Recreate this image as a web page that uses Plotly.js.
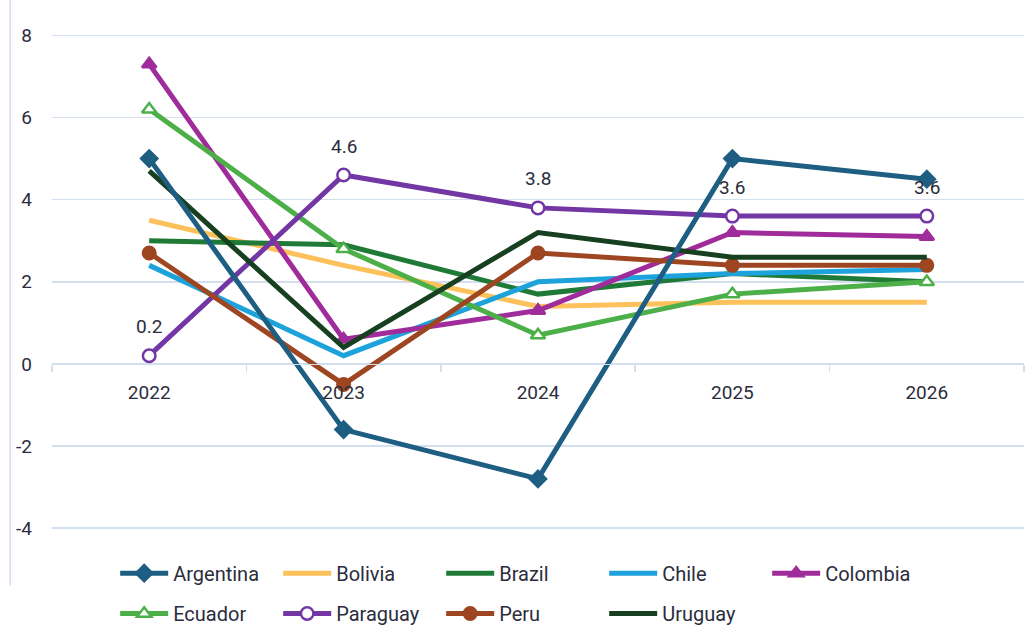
<!DOCTYPE html>
<html>
<head>
<meta charset="utf-8">
<script src="https://cdn.plot.ly/plotly-3.0.1.min.js"></script>
<style>html,body{margin:0;padding:0;background:#fff;}#chart{width:1027px;height:639px;}</style>
</head>
<body>
<div id="chart"></div>
<script>
const years = ['2022', '2023', '2024', '2025', '2026'];
const argentina = [5.0, -1.6, -2.8, 5.0, 4.5];
const bolivia = [3.5, 2.4, 1.4, 1.5, 1.5];
const brazil = [3.0, 2.9, 1.7, 2.2, 2.0];
const chile = [2.4, 0.2, 2.0, 2.2, 2.3];
const colombia = [7.3, 0.6, 1.3, 3.2, 3.1];
const ecuador = [6.2, 2.8, 0.7, 1.7, 2.0];
const paraguay = [0.2, 4.6, 3.8, 3.6, 3.6];
const peru = [2.7, -0.5, 2.7, 2.4, 2.4];
const uruguay = [4.7, 0.4, 3.2, 2.6, 2.6];
const yTicks = [-4, -2, 0, 2, 4, 6, 8];

const FONT = 'Roboto, "Liberation Sans", sans-serif';
const TXT = '#2b2d3c';

function tr(name, y, color, symbol, hollow, legend, extra) {
  const t = {
    type: 'scatter', x: years, y: y, name: name, legend: legend,
    mode: symbol ? 'lines+markers' : 'lines',
    line: {color: color, width: 5},
    hoverinfo: 'skip'
  };
  if (symbol) {
    t.marker = {symbol: symbol, size: 12.5, color: hollow ? '#ffffff' : color,
                line: {color: color, width: 2.5}};
  }
  return Object.assign(t, extra || {});
}

const data = [
  tr('Bolivia', bolivia, '#fdc15b', null, false, 'legend'),
  tr('Brazil', brazil, '#1f7a37', null, false, 'legend'),
  tr('Chile', chile, '#1ea2dc', null, false, 'legend'),
  tr('Colombia', colombia, '#a02c9b', 'triangle-up', false, 'legend'),
  tr('Ecuador', ecuador, '#4caf48', 'triangle-up', true, 'legend2'),
  tr('Paraguay', paraguay, '#7237a4', 'circle', true, 'legend2'),
  tr('Peru', peru, '#9d4621', 'circle', false, 'legend2'),
  tr('Uruguay', uruguay, '#16401f', null, false, 'legend2'),
  tr('Argentina', argentina, '#1d5e82', 'diamond', false, 'legend', {legendrank: 1})
];
data.forEach((d, i) => { if (d.legendrank === undefined) d.legendrank = 10 + i; });

const annotations = paraguay.map((v, i) => ({
  x: i, y: v, xref: 'x', yref: 'y', text: v.toFixed(1),
  showarrow: false, yshift: 29, font: {family: FONT, size: 19, color: TXT}
}));

const yMin = -4.8, yMax = 8.4;
const legendCommon = {
  orientation: 'h', xanchor: 'left', yanchor: 'top',
  entrywidth: 100, entrywidthmode: 'pixels', traceorder: 'normal',
  font: {family: FONT, size: 20, color: TXT}, bgcolor: 'rgba(0,0,0,0)', itemwidth: 48
};
const layout = {
  width: 1027, height: 639,
  margin: {l: 52, r: 3, t: 19, b: 78},
  paper_bgcolor: '#ffffff', plot_bgcolor: '#ffffff',
  font: {family: FONT, size: 19, color: TXT},
  showlegend: true,
  xaxis: {
    type: 'category', categoryarray: years, range: [-0.5, 4.5],
    anchor: 'free', position: (0 - yMin) / (yMax - yMin),
    showgrid: false, zeroline: false,
    showline: true, linecolor: '#d3deee', linewidth: 1.5,
    ticks: 'outside', tickson: 'boundaries', ticklen: 7, tickcolor: '#d3deee', tickwidth: 1.5,
    tickfont: {family: FONT, size: 19, color: TXT},
    ticklabelstandoff: 11, fixedrange: true
  },
  yaxis: {
    range: [yMin, yMax], tickvals: yTicks, ticktext: yTicks.map(String),
    showgrid: true, gridcolor: '#d3deee', gridwidth: 1.5, zeroline: false,
    showline: false, ticks: '', ticklabelstandoff: 19,
    tickfont: {family: FONT, size: 19, color: TXT}, fixedrange: true
  },
  legend: Object.assign({x: 0.065, y: 0.0135}, legendCommon),
  legend2: Object.assign({x: 0.065, y: -0.061}, legendCommon),
  annotations: annotations,
  shapes: [{
    type: 'line', xref: 'paper', yref: 'paper',
    x0: -0.043, x1: -0.043, y0: -0.045, y1: 1.04,
    line: {color: '#d3deee', width: 1.5}
  }]
};

Plotly.newPlot('chart', data, layout, {displayModeBar: false, staticPlot: true});
</script>
</body>
</html>
